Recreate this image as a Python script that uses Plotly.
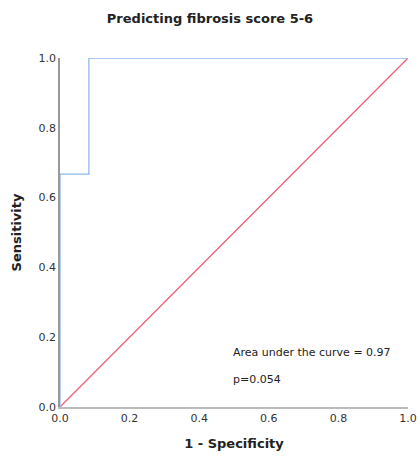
import plotly.graph_objects as go

# ROC curve points (1 - specificity, sensitivity)
roc_fpr = [0.0, 0.0, 0.083, 0.083, 1.0]
roc_tpr = [0.0, 0.667, 0.667, 1.0, 1.0]
ref_x = [0.0, 1.0]
ref_y = [0.0, 1.0]
tick_vals = [0.0, 0.2, 0.4, 0.6, 0.8, 1.0]
tick_text = ["0.0", "0.2", "0.4", "0.6", "0.8", "1.0"]
auc_text = "Area under the curve = 0.97"
p_text = "p=0.054"

fig = go.Figure()
fig.add_trace(go.Scatter(x=ref_x, y=ref_y, mode="lines",
                         line=dict(color="#f0607a", width=1.3), hoverinfo="skip"))
fig.add_trace(go.Scatter(x=roc_fpr, y=roc_tpr, mode="lines",
                         line=dict(color="#8fb8ee", width=1.3), hoverinfo="skip"))

font_main = "DejaVu Sans, Verdana, sans-serif"
fig.update_layout(
    width=420, height=457,
    margin=dict(l=60, r=12, t=58, b=50),
    paper_bgcolor="white", plot_bgcolor="white",
    showlegend=False,
    font=dict(family=font_main, size=11, color="#333333"),
    title=dict(text="<b>Predicting fibrosis score 5-6</b>", x=0.5, xanchor="center",
               y=1 - 18 / 457, yanchor="middle",
               font=dict(family=font_main, size=13, color="#222222")),
    xaxis=dict(range=[0, 1], tickvals=tick_vals, ticktext=tick_text, automargin=False,
               showgrid=False, zeroline=False, showline=True, linecolor="#bbbbbb",
               linewidth=2, ticks="", ticklen=0,
               title=dict(text="<b>1 - Specificity</b>", standoff=15,
                          font=dict(size=13, color="#222222"))),
    yaxis=dict(range=[0, 1], tickvals=tick_vals, ticktext=tick_text, automargin=False,
               showgrid=False, zeroline=False, showline=True, linecolor="#999999",
               linewidth=1.5, ticks="", ticklen=0,
               title=dict(text="<b>Sensitivity</b>", standoff=14,
                          font=dict(size=13, color="#222222"))),
    annotations=[
        dict(x=0.49, y=0.155, xref="x", yref="y", text=auc_text, showarrow=False,
             xanchor="left", yanchor="middle", font=dict(size=11, color="#222222")),
        dict(x=0.49, y=0.078, xref="x", yref="y", text=p_text, showarrow=False,
             xanchor="left", yanchor="middle", font=dict(size=11, color="#222222")),
    ],
)

fig.write_html("out.html", config={"displayModeBar": False},
               post_script="document.body.style.margin='0';document.body.style.overflow='hidden';")
